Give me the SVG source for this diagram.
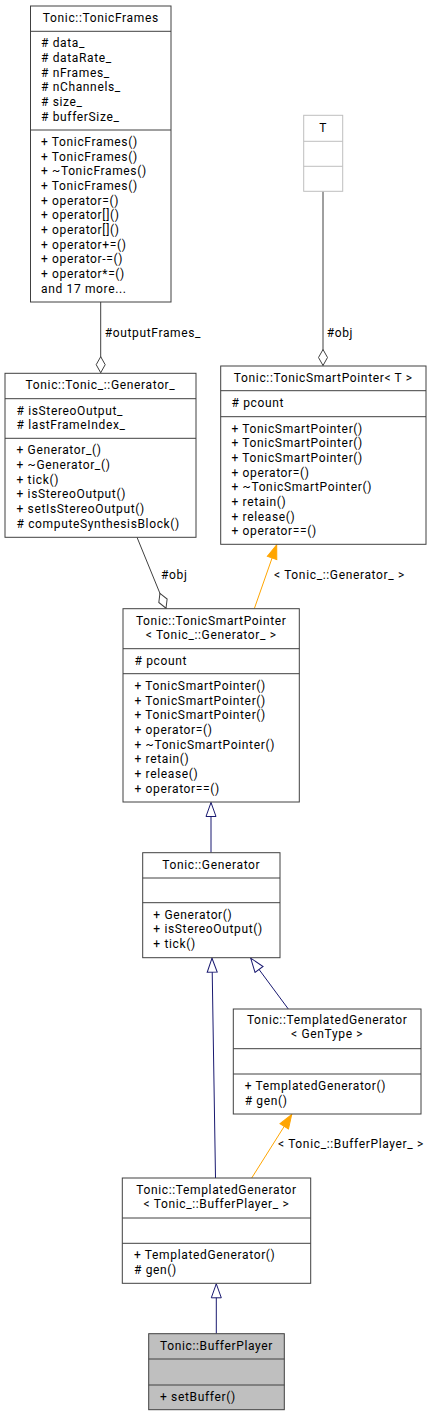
<svg xmlns="http://www.w3.org/2000/svg" width="431" height="1416" viewBox="0 0 431 1416">
<style>
text{font-family:Roboto,"Liberation Sans",sans-serif;font-size:12px;letter-spacing:0.65px;fill:#000}
.c{text-anchor:middle}
.box{fill:#fff;stroke:#404040;stroke-width:1}
.gbox{fill:#fff;stroke:#bfbfbf;stroke-width:1}
.sel{fill:#bfbfbf;stroke:#404040;stroke-width:1}
.dv{stroke:#404040;stroke-width:1}
.gdv{stroke:#bfbfbf;stroke-width:1}
.agg{fill:none;stroke:#404040;stroke-width:1;marker-end:url(#dia)}
.inh{fill:none;stroke:#191970;stroke-width:1;marker-end:url(#tri)}
.tpl{fill:none;stroke:orange;stroke-width:1;marker-end:url(#otri)}
</style>
<defs>
<marker id="dia" markerUnits="userSpaceOnUse" markerWidth="18" markerHeight="11" viewBox="-1 -1 18 11" refX="16" refY="4.5" orient="auto"><path d="M0,4.5 L8,0 L16,4.5 L8,9 Z" fill="#fff" stroke="#404040" stroke-width="1"/></marker>
<marker id="tri" markerUnits="userSpaceOnUse" markerWidth="16" markerHeight="12" viewBox="-1 -1 16 12" refX="14" refY="5" orient="auto"><path d="M0,0 L14,5 L0,10 Z" fill="#fff" stroke="#191970" stroke-width="1"/></marker>
<marker id="otri" markerUnits="userSpaceOnUse" markerWidth="16" markerHeight="12" viewBox="-1 -1 16 12" refX="14" refY="5" orient="auto"><path d="M0,0 L14,5 L0,10 Z" fill="orange" stroke="orange" stroke-width="1"/></marker>
</defs>

<g id="edges">
<path class="agg" d="M100.7,302 L100.7,372.7"/>
<text x="104.7" y="336.5">#outputFrames_</text>
<path class="agg" d="M323,191.3 L323,365.5"/>
<text x="326.7" y="336.5">#obj</text>
<path class="agg" d="M137,537.3 L166,608.2"/>
<text x="161" y="579">#obj</text>
<path class="tpl" d="M254.3,608.7 L276.7,544.8"/>
<text x="274" y="579">&lt; Tonic_::Generator_ &gt;</text>
<path class="inh" d="M211,852.7 L211,802.5"/>
<path class="inh" d="M215.5,1178 L212,958.2"/>
<path class="inh" d="M288.3,1009 L250.7,958.2"/>
<path class="tpl" d="M251.7,1178 L291.7,1114.5"/>
<text x="278" y="1148">&lt; Tonic_::BufferPlayer_ &gt;</text>
<path class="inh" d="M216.3,1333.7 L216.3,1283.8"/>
</g>

<g id="TonicFrames">
<rect class="box" x="30.5" y="6" width="140.5" height="296"/>
<text class="c" x="100.8" y="22">Tonic::TonicFrames</text>
<line class="dv" x1="30.5" y1="31.3" x2="171" y2="31.3"/>
<text x="41" y="47.3"># data_</text>
<text x="41" y="62"># dataRate_</text>
<text x="41" y="76.7"># nFrames_</text>
<text x="41" y="91.3"># nChannels_</text>
<text x="41" y="106"># size_</text>
<text x="41" y="120.7"># bufferSize_</text>
<line class="dv" x1="30.5" y1="130" x2="171" y2="130"/>
<text x="41" y="146">+ TonicFrames()</text>
<text x="41" y="160.7">+ TonicFrames()</text>
<text x="41" y="175.3">+ ~TonicFrames()</text>
<text x="41" y="190">+ TonicFrames()</text>
<text x="41" y="204.7">+ operator=()</text>
<text x="41" y="219.3">+ operator[]()</text>
<text x="41" y="234">+ operator[]()</text>
<text x="41" y="248.7">+ operator+=()</text>
<text x="41" y="263.3">+ operator-=()</text>
<text x="41" y="278">+ operator*=()</text>
<text x="41" y="292.7">and 17 more...</text>
</g>

<g id="T">
<rect class="gbox" x="303.7" y="115.3" width="39" height="76"/>
<text class="c" x="323.2" y="131.7">T</text>
<line class="gdv" x1="303.7" y1="141.3" x2="342.7" y2="141.3"/>
<line class="gdv" x1="303.7" y1="166.3" x2="342.7" y2="166.3"/>
</g>

<g id="Generator_">
<rect class="box" x="5" y="373.3" width="191" height="164"/>
<text class="c" x="100.5" y="389.3">Tonic::Tonic_::Generator_</text>
<line class="dv" x1="5" y1="398.7" x2="196" y2="398.7"/>
<text x="16.5" y="414.7"># isStereoOutput_</text>
<text x="16.5" y="429.3"># lastFrameIndex_</text>
<line class="dv" x1="5" y1="438.3" x2="196" y2="438.3"/>
<text x="16.5" y="454.3">+ Generator_()</text>
<text x="16.5" y="469">+ ~Generator_()</text>
<text x="16.5" y="483.7">+ tick()</text>
<text x="16.5" y="498.3">+ isStereoOutput()</text>
<text x="16.5" y="513">+ setIsStereoOutput()</text>
<text x="16.5" y="527.7"># computeSynthesisBlock()</text>
</g>

<g id="TonicSmartPointerT">
<rect class="box" x="220.7" y="366" width="205.3" height="178.3"/>
<text class="c" x="323.3" y="382">Tonic::TonicSmartPointer&lt; T &gt;</text>
<line class="dv" x1="220.7" y1="390.7" x2="426" y2="390.7"/>
<text x="231.5" y="406.7"># pcount</text>
<line class="dv" x1="220.7" y1="416.7" x2="426" y2="416.7"/>
<text x="231.5" y="432.7">+ TonicSmartPointer()</text>
<text x="231.5" y="447.3">+ TonicSmartPointer()</text>
<text x="231.5" y="462">+ TonicSmartPointer()</text>
<text x="231.5" y="476.7">+ operator=()</text>
<text x="231.5" y="491.3">+ ~TonicSmartPointer()</text>
<text x="231.5" y="506">+ retain()</text>
<text x="231.5" y="520.7">+ release()</text>
<text x="231.5" y="535.3">+ operator==()</text>
</g>

<g id="TonicSmartPointerGen">
<rect class="box" x="123" y="608.7" width="176.3" height="193.3"/>
<text class="c" x="211.2" y="624.7">Tonic::TonicSmartPointer</text>
<text class="c" x="211.2" y="638.7">&lt; Tonic_::Generator_ &gt;</text>
<line class="dv" x1="123" y1="648.7" x2="299.3" y2="648.7"/>
<text x="134.5" y="664.7"># pcount</text>
<line class="dv" x1="123" y1="673.7" x2="299.3" y2="673.7"/>
<text x="134.5" y="690">+ TonicSmartPointer()</text>
<text x="134.5" y="704.7">+ TonicSmartPointer()</text>
<text x="134.5" y="719.3">+ TonicSmartPointer()</text>
<text x="134.5" y="734">+ operator=()</text>
<text x="134.5" y="748.7">+ ~TonicSmartPointer()</text>
<text x="134.5" y="763.3">+ retain()</text>
<text x="134.5" y="778">+ release()</text>
<text x="134.5" y="792.7">+ operator==()</text>
</g>

<g id="Generator">
<rect class="box" x="142.7" y="852.7" width="137.3" height="105"/>
<text class="c" x="211.3" y="868.7">Tonic::Generator</text>
<line class="dv" x1="142.7" y1="878" x2="280" y2="878"/>
<line class="dv" x1="142.7" y1="902.7" x2="280" y2="902.7"/>
<text x="153.3" y="918.7">+ Generator()</text>
<text x="153.3" y="933.3">+ isStereoOutput()</text>
<text x="153.3" y="948">+ tick()</text>
</g>

<g id="TemplatedGeneratorGenType">
<rect class="box" x="233.3" y="1009" width="187.7" height="105"/>
<text class="c" x="327.2" y="1024.3">Tonic::TemplatedGenerator</text>
<text class="c" x="327.2" y="1038.3">&lt; GenType &gt;</text>
<line class="dv" x1="233.3" y1="1048.7" x2="421" y2="1048.7"/>
<line class="dv" x1="233.3" y1="1074" x2="421" y2="1074"/>
<text x="244.7" y="1090">+ TemplatedGenerator()</text>
<text x="244.7" y="1104.7"># gen()</text>
</g>

<g id="TemplatedGeneratorBP">
<rect class="box" x="122.3" y="1178" width="188.4" height="105.3"/>
<text class="c" x="216.5" y="1193.7">Tonic::TemplatedGenerator</text>
<text class="c" x="216.5" y="1208.3">&lt; Tonic_::BufferPlayer_ &gt;</text>
<line class="dv" x1="122.3" y1="1218" x2="310.7" y2="1218"/>
<line class="dv" x1="122.3" y1="1243.3" x2="310.7" y2="1243.3"/>
<text x="134" y="1259">+ TemplatedGenerator()</text>
<text x="134" y="1273.7"># gen()</text>
</g>

<g id="BufferPlayer">
<rect class="sel" x="148.7" y="1333.7" width="135.6" height="76"/>
<text class="c" x="216.5" y="1349.7">Tonic::BufferPlayer</text>
<line class="dv" x1="148.7" y1="1359" x2="284.3" y2="1359"/>
<line class="dv" x1="148.7" y1="1385" x2="284.3" y2="1385"/>
<text x="160" y="1400.7">+ setBuffer()</text>
</g>
</svg>
